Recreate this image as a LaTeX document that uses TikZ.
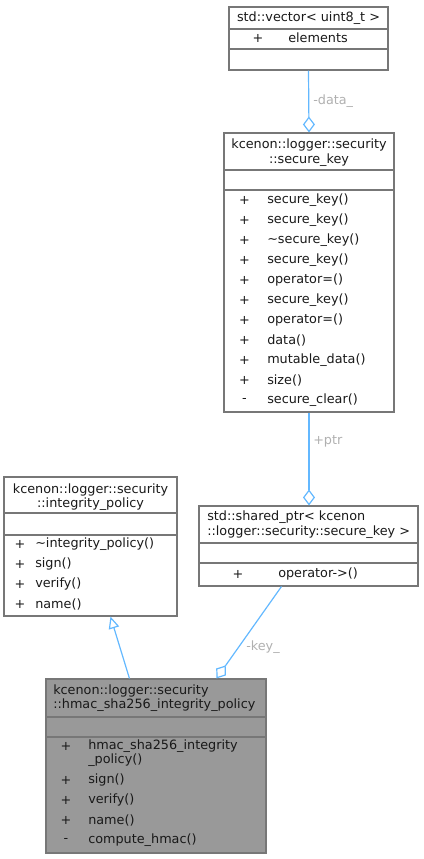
\documentclass[tikz,border=0pt]{standalone}
\usepackage{fontspec}
\setmainfont{DejaVu Sans}
\usetikzlibrary{arrows.meta,fit,calc}
\definecolor{edgeblue}{HTML}{63B8FF}
\definecolor{boxline}{HTML}{777777}
\definecolor{lblgray}{HTML}{B0B0B0}
\definecolor{hmacfill}{HTML}{999999}
\tikzset{
  umlbox/.style={draw=boxline, line width=0.8pt, inner sep=0pt, rectangle},
  sepline/.style={draw=boxline, line width=0.8pt},
  txt/.style={inner sep=0pt, font=\fontsize{9.6pt}{11.5pt}\selectfont, text=black!90},
  lw/.style={txt, anchor=west},
  lbl/.style={inner sep=0pt, anchor=west, font=\fontsize{9.6pt}{11.5pt}\selectfont, text=lblgray},
  compo/.style={draw=edgeblue, line width=0.9pt, -{Diamond[open, length=12pt, width=9pt]}},
  inherit/.style={draw=edgeblue, line width=0.9pt, -{Triangle[open, length=9pt, width=8pt]}},
}
\begin{document}
\begin{tikzpicture}[x=0.75pt, y=-0.75pt]
\useasboundingbox (0,0) rectangle (424,859);

% ---- std::vector< uint8_t >
\node[umlbox, fit={(229,7) (388,70)}] (vec) {};
\draw[sepline] (229,29) -- (388,29);
\draw[sepline] (229,49) -- (388,49);
\node[txt] (vect) at (308.5,18) {std::vector< uint8\_t >};
\node[txt] (vecp) at (258,38) {+};
\node[lw] (veca) at (288,38) {elements};

% ---- secure_key
\node[umlbox, fit={(224,133) (394,412)}] (sk) {};
\draw[sepline] (224,170) -- (394,170);
\draw[sepline] (224,190) -- (394,190);
\node[txt] (skt1) at (309,145) {kcenon::logger::security};
\node[txt] (skt2) at (309,160) {::secure\_key};
\foreach \i/\v/\t in {0/+/secure\_key(), 1/+/secure\_key(), 2/+/\textasciitilde secure\_key(), 3/+/secure\_key(), 4/+/operator=(), 5/+/secure\_key(), 6/+/operator=(), 7/+/data(), 8/+/mutable\_data(), 9/+/size(), 10/-/secure\_clear()} {
  \node[txt] (skv\i) at (244.5,200+20*\i) {\v};
  \node[lw] (skm\i) at (267,200+20*\i) {\t};
}

% ---- integrity_policy
\node[umlbox, fit={(4,477) (177,616)}] (ip) {};
\draw[sepline] (4,513) -- (177,513);
\draw[sepline] (4,535) -- (177,535);
\node[txt] (ipt1) at (90.5,490) {kcenon::logger::security};
\node[txt] (ipt2) at (90.5,504) {::integrity\_policy};
\foreach \i/\t in {0/\textasciitilde integrity\_policy(), 1/sign(), 2/verify(), 3/name()} {
  \node[txt] (ipv\i) at (20,544+20*\i) {+};
  \node[lw] (ipm\i) at (35,544+20*\i) {\t};
}

% ---- shared_ptr
\node[umlbox, fit={(199,506) (418,586)}] (sp) {};
\draw[sepline] (199,543) -- (418,543);
\draw[sepline] (199,563) -- (418,563);
\node[lw] (spt1) at (207,517) {std::shared\_ptr< kcenon};
\node[lw] (spt2) at (207,532) {::logger::security::secure\_key >};
\node[txt] (spv) at (238,574) {+};
\node[lw] (spm) at (278,574) {operator->()};

% ---- hmac_sha256_integrity_policy
\node[umlbox, fill=hmacfill, fit={(46,679) (266,853)}] (hm) {};
\draw[sepline] (46,717) -- (266,717);
\draw[sepline] (46,737) -- (266,737);
\node[lw] (hmt1) at (53,691) {kcenon::logger::security};
\node[lw] (hmt2) at (53,705) {::hmac\_sha256\_integrity\_policy};
\node[txt] (hmv0) at (66,746) {+};
\node[lw] (hmm0) at (88,746) {hmac\_sha256\_integrity};
\node[lw] (hmm0b) at (88,760) {\_policy()};
\node[txt] (hmv1) at (66,780) {+};
\node[lw] (hmm1) at (88,780) {sign()};
\node[txt] (hmv2) at (66,800) {+};
\node[lw] (hmm2) at (88,800) {verify()};
\node[txt] (hmv3) at (66,820) {+};
\node[lw] (hmm3) at (88,820) {name()};
\node[txt] (hmv4) at (66,840) {-};
\node[lw] (hmm4) at (88,840) {compute\_hmac()};

% ---- connectors
\draw[compo] (vec.south) -- (sk.north);
\node[lbl] (ldata) at (313,101) {-data\_};

\draw[compo] (sk.south) -- (sk.south |- sp.north);
\node[lbl] (lptr) at (313,441) {+ptr};

\draw[compo] ($(sp.south west)+(83,0)$) -- ($(hm.north west)+(171,0)$);
\node[lbl] (lkey) at (246,647) {-key\_};

\draw[inherit] ($(hm.north west)+(84,0)$) -- ($(ip.south west)+(107,0)$);
\end{tikzpicture}
\end{document}
